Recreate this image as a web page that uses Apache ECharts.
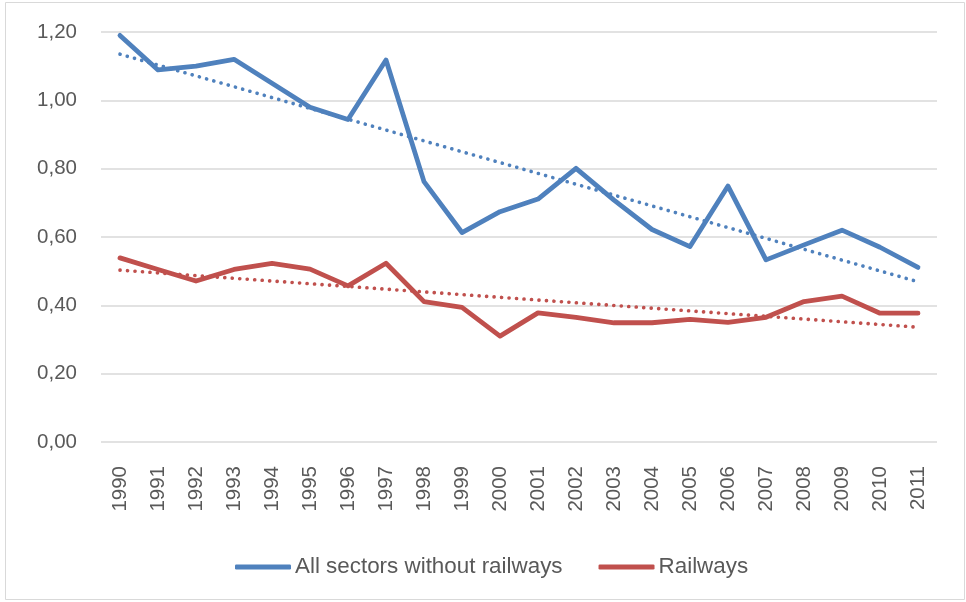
<!DOCTYPE html>
<html>
<head>
<meta charset="utf-8">
<script src="https://cdn.jsdelivr.net/npm/echarts@6/dist/echarts.min.js"></script>
<style>
html,body{margin:0;padding:0;background:#fff;}
#chart{width:966px;height:602px;}
</style>
</head>
<body>
<div id="chart"></div>
<script>
const years = ['1990','1991','1992','1993','1994','1995','1996','1997','1998','1999','2000','2001','2002','2003','2004','2005','2006','2007','2008','2009','2010','2011'];
const allSectors = [1.19,1.089,1.10,1.12,1.05,0.98,0.944,1.118,0.762,0.613,0.674,0.711,0.801,0.708,0.622,0.572,0.749,0.533,0.577,0.620,0.570,0.511];
const railways = [0.539,0.505,0.471,0.505,0.523,0.506,0.457,0.523,0.411,0.394,0.310,0.378,0.365,0.349,0.349,0.359,0.350,0.365,0.411,0.427,0.377,0.377];
// trend line endpoints (1990 and 2011)
const allSectorsTrendEnds = [1.135, 0.469];
const railwaysTrendEnds = [0.503, 0.336];
const yTicks = [0, 0.2, 0.4, 0.6, 0.8, 1.0, 1.2];

function trendSeries(ends){
  return years.map((y,i)=> i===0 ? ends[0] : (i===years.length-1 ? ends[1] : null));
}

const blue = '#4F81BD';
const red = '#C0504D';
const textColor = '#595959';
const font = 'Liberation Sans';

const chart = echarts.init(document.getElementById('chart'));
chart.setOption({
  animation:false,
  backgroundColor:'#fff',
  graphic:[{type:'rect',shape:{x:5.5,y:2.5,width:959,height:597},style:{fill:'none',stroke:'#d9d9d9',lineWidth:1},silent:true}],
  grid:{left:101,right:29,top:32,bottom:160,containLabel:false},
  legend:{
    data:['All sectors without railways','Railways'],
    bottom:24,
    left:235,
    padding:0,
    itemWidth:56,
    itemHeight:5,
    itemGap:36,
    icon:'roundRect',
    textStyle:{color:textColor,fontFamily:font,fontSize:22.4,padding:[0,0,0,-1]}
  },
  xAxis:{
    type:'category',
    data:years,
    boundaryGap:true,
    axisLine:{show:false},
    axisTick:{show:false},
    axisLabel:{rotate:90,color:textColor,fontFamily:font,fontSize:20.5,margin:24,interval:0}
  },
  yAxis:{
    type:'value',
    min:yTicks[0],
    max:yTicks[yTicks.length-1],
    interval:0.2,
    axisLine:{show:false},
    axisTick:{show:false},
    splitLine:{lineStyle:{color:'#d9d9d9',width:1.5}},
    axisLabel:{color:textColor,fontFamily:font,fontSize:20.5,margin:24,formatter:v=>v.toFixed(2).replace('.',',')}
  },
  series:[
    {name:'All sectors without railways',type:'line',data:allSectors,symbol:'none',z:3,
      lineStyle:{color:blue,width:4.8,join:'round',cap:'round'},itemStyle:{color:blue}},
    {name:'Railways',type:'line',data:railways,symbol:'none',z:3,
      lineStyle:{color:red,width:4.8,join:'round',cap:'round'},itemStyle:{color:red}},
    {name:'trendAll',type:'line',data:trendSeries(allSectorsTrendEnds),connectNulls:true,symbol:'none',z:4,
      lineStyle:{color:blue,width:3.6,type:[0.1,7.4],cap:'round'}},
    {name:'trendRail',type:'line',data:trendSeries(railwaysTrendEnds),connectNulls:true,symbol:'none',z:4,
      lineStyle:{color:red,width:3.6,type:[0.1,7.4],cap:'round'}}
  ]
});
</script>
</body>
</html>
